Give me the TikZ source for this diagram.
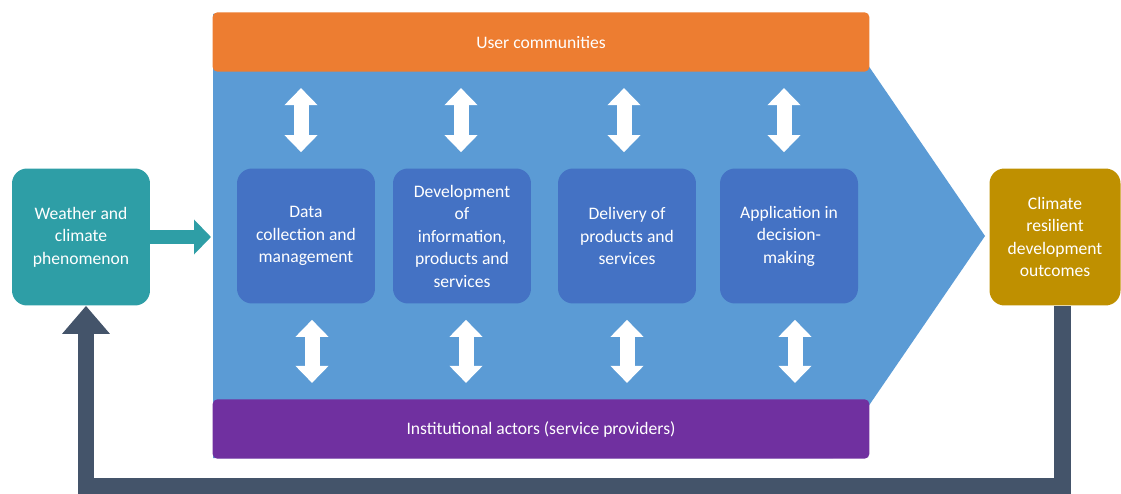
\documentclass[tikz,border=0pt]{standalone}
\usepackage{fontspec}
\setmainfont{Carlito}
\usetikzlibrary{shapes,arrows.meta,positioning,calc}
\definecolor{chevblue}{RGB}{91,155,213}
\definecolor{stepblue}{RGB}{68,114,196}
\definecolor{usrorange}{RGB}{237,125,49}
\definecolor{instpurple}{RGB}{112,48,160}
\definecolor{wxteal}{RGB}{46,158,166}
\definecolor{outgold}{RGB}{191,144,0}
\definecolor{loopgrey}{RGB}{68,84,106}

\begin{document}
\begin{tikzpicture}[x=0.02cm, y=-0.02cm,
    every node/.style={font=\fontsize{10}{12.8}\selectfont, text=white, align=center},
    stage/.style={fill=stepblue, minimum width=2.76cm, minimum height=2.7cm, rounded corners=0.3cm},
    bar/.style={minimum width=13.14cm, minimum height=1.19cm, rounded corners=0.1cm},
    endbox/.style={minimum height=2.74cm, rounded corners=0.3cm},
    updown/.style={white, line width=0.3cm, shorten >=0.32cm, shorten <=0.32cm,
        {Triangle[length=0.34cm, width=0.64cm]}-{Triangle[length=0.34cm, width=0.64cm]}}]
        \useasboundingbox (0,0) rectangle (1121,493);
        % Chevron
        \fill[chevblue] (213,14) -- (833,14) -- (985,236) -- (833,458) -- (213,458) -- cycle;
        \coordinate (chevin) at (211,237);
        % Bars
        \node[bar, fill=usrorange] (users) at (541,42) {User communities};
        \node[bar, fill=instpurple] (inst) at (541,429) {Institutional actors (service providers)};
        % Stages
        \node[stage] (collect) at (306,236) {Data\\collection and\\management};
        \node[stage] (develop) at (462,236) {Development\\of\\information,\\products and\\services};
        \node[stage] (deliver) at (627,236) {Delivery of\\products and\\services};
        \node[stage] (apply) at (789,236) {Application in\\decision-\\making};
        % Input and outcome
        \node[endbox, fill=wxteal, minimum width=2.76cm] (wx) at (81,237) {Weather and\\climate\\phenomenon};
        \node[endbox, fill=outgold, minimum width=2.62cm] (out) at (1055,237) {Climate\\resilient\\development\\outcomes};

        \foreach \st/\dt/\db in {collect/-5/6, develop/-1/4, deliver/-3/0, apply/-5/6}{
            \draw[updown] ($(users.south -| \st)+(\dt,0)$) -- ($(\st.north)+(\dt,0)$);
            \draw[updown] ($(\st.south)+(\db,0)$) -- ($(inst.north -| \st)+(\db,0)$);
        }
        \draw[wxteal, line width=0.3cm, -{Triangle[length=0.34cm, width=0.68cm]}] (wx) -- (chevin);
        % Feedback
        \coordinate (loopbase) at (560,486);
        \draw[loopgrey, line width=0.34cm, -{Triangle[length=0.56cm, width=0.92cm]}] ([xshift=0.14cm]out.south) |- (loopbase) -| ([xshift=0.1cm]wx.south);
    \end{tikzpicture}
\end{document}
